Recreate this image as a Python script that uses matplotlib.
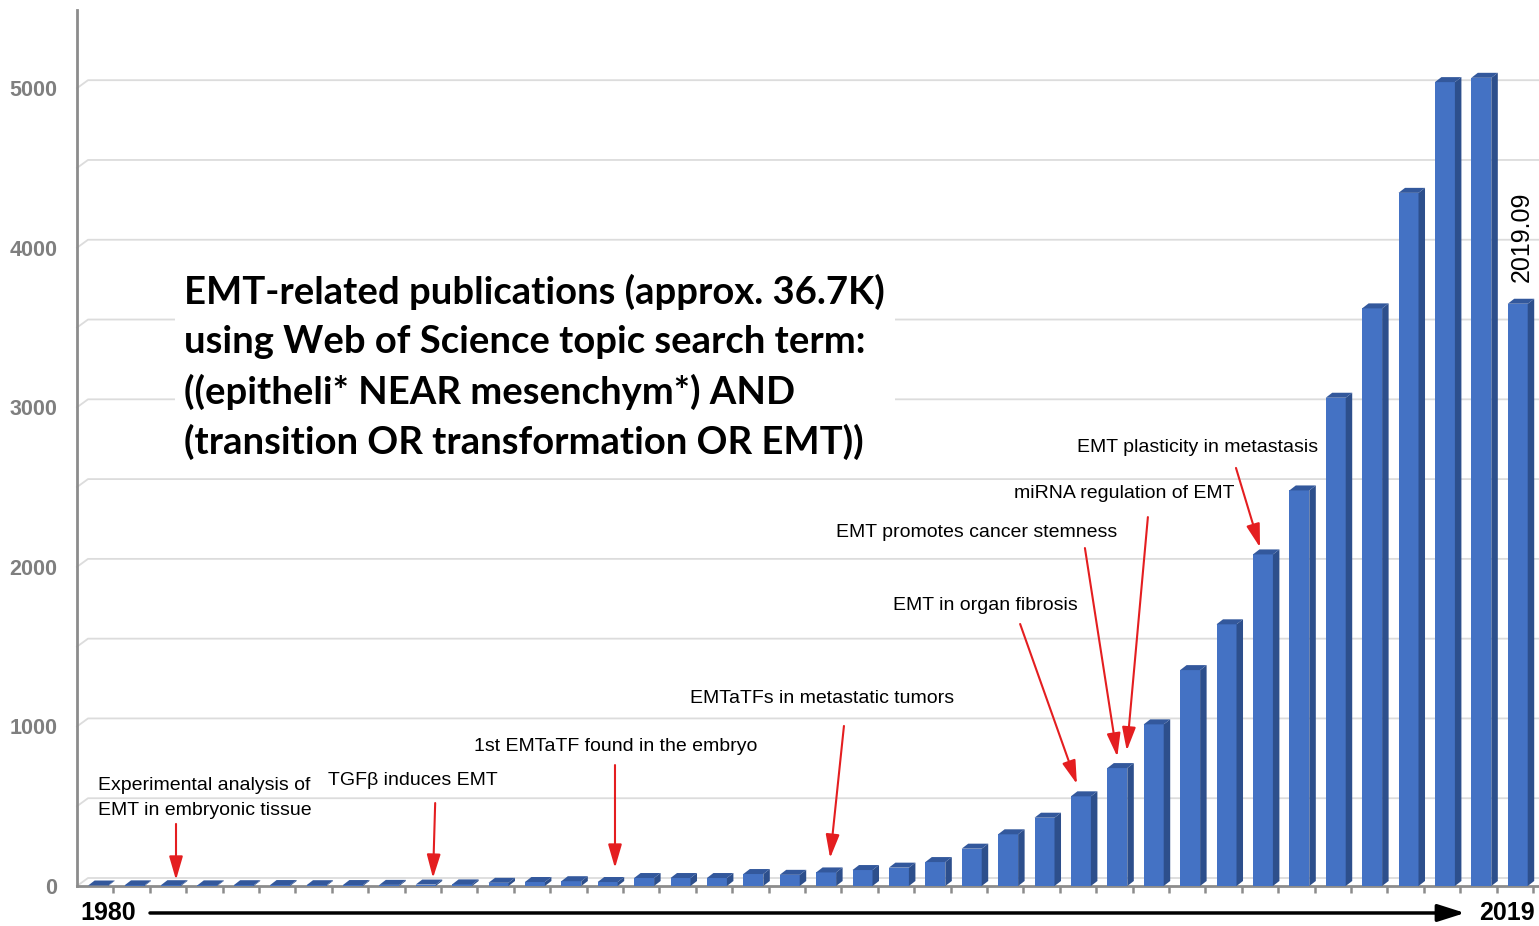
import numpy as np
import matplotlib.pyplot as plt
from matplotlib.patches import Polygon, Rectangle

years = np.arange(1980, 2020)
pubs = [3, 4, 5, 4, 5, 6, 5, 6, 7, 9, 10, 20, 25, 30, 25, 50, 50, 50, 75, 70,
        85, 100, 115, 150, 234, 324, 428, 562, 739, 1013, 1353, 1640, 2078, 2479,
        3060, 3620, 4344, 5038, 5065, 3649]

event_labels = ['Experimental analysis of\nEMT in embryonic tissue', 'TGF\u03b2 induces EMT',
                '1st EMTaTF found in the embryo', 'EMTaTFs in metastatic tumors',
                'EMT in organ fibrosis', 'EMT promotes cancer stemness',
                'miRNA regulation of EMT', 'EMT plasticity in metastasis']
event_years = [1982, 1989, 1994, 2000, 2007, 2008, 2008, 2012]

yticks = [0, 1000, 2000, 3000, 4000, 5000]
title_lines = ['EMT-related publications (approx. 36.7K)',
               'using Web of Science topic search term:',
               '((epitheli* NEAR mesenchym*) AND',
               '(transition OR transformation OR EMT))']

# layout (data units)
text_pos = [(1980.0, 551), (1986.32, 664), (1990.33, 877), (1996.26, 1178),
            (2001.84, 1755), (2000.27, 2218), (2005.16, 2457), (2006.89, 2751)]
tail_pos = [(1982.14, 389), (1989.26, 520), (1994.2, 758), (2000.49, 1003),
            (2005.33, 1642), (2007.11, 2118), (2008.84, 2312), (2011.26, 2620)]
head_off = [(0.14, 33), (0.2, 41), (0.2, 88), (0.11, 90),
            (-0.11, 77), (0.0, 71), (0.26, 109), (-0.08, 44)]

W, H = 1539, 926
fig = plt.figure(figsize=(W / 100, H / 100), dpi=100)
ax = fig.add_axes([77 / W, 40 / H, 1462 / W, 876 / H])
xmin, xmax = 1979.42, 1979.42 + 1462 / 36.4
ymax = 5490
ax.set_xlim(xmin, xmax)
ax.set_ylim(0, ymax)
px_x = (xmax - xmin) / 1462   # data units per pixel
px_y = ymax / 876

gray = '#8C8C8C'
for s in ['top', 'right']:
    ax.spines[s].set_visible(False)
for s in ['left', 'bottom']:
    ax.spines[s].set_color(gray)
    ax.spines[s].set_linewidth(2)

# gridlines with 3D back-wall offset
gdx, gdy = 11 * px_x, 8 * px_y
for v in np.arange(0, 5001, 500):
    ax.plot([xmin, xmin + gdx, xmax], [v, v + gdy, v + gdy], color='#DCDCDC',
            lw=1.3, zorder=1, clip_on=False)

# 3D bars
bw = 20 * px_x
ddx, ddy = 6.5 * px_x, 5 * px_y
ax.bar(years, pubs, width=bw, color='#4472C4', zorder=3)
for x, v in zip(years, pubs):
    r = x + bw / 2
    l = x - bw / 2
    ax.add_patch(Polygon([(r, 0), (r + ddx, ddy), (r + ddx, v + ddy), (r, v)],
                         closed=True, color='#2D4F8C', zorder=3, lw=0))
    ax.add_patch(Polygon([(l, v), (r, v), (r + ddx, v + ddy), (l + ddx, v + ddy)],
                         closed=True, color='#33589C', zorder=3, lw=0))

ax.set_yticks(yticks)
ax.set_yticklabels([str(t) for t in yticks], fontsize=15.5, fontweight='bold',
                   color='#7F7F7F', family='Liberation Sans')
ax.tick_params(axis='y', length=0, pad=14)
ax.set_xticks(xmin + np.arange(1, 41))
ax.set_xticklabels([])
ax.tick_params(axis='x', length=5, width=1.8, color=gray, direction='out')

# title box
bx0, bx1 = 1979.42 + 98 / 36.4, 1979.42 + 818 / 36.4
ax.add_patch(Rectangle((bx0, 2613), bx1 - bx0, 3903 - 2613, color='white', zorder=2, lw=0))
for i, line in enumerate(title_lines):
    ax.text(1979.42 + 107 / 36.4, (886 - (292 + 50 * i)) * px_y, line, fontsize=27.5,
            fontweight='bold', family='Lato', va='center', ha='left', zorder=4)

# events
for lab, yr, tp, tl, ho in zip(event_labels, event_years, text_pos, tail_pos, head_off):
    ax.text(tp[0], tp[1], lab, fontsize=14, family='Liberation Sans', va='center',
            ha='left', linespacing=1.65, zorder=4)
    ax.annotate('', xy=(yr + ho[0], pubs[yr - 1980] + ho[1]), xytext=tl,
                arrowprops=dict(arrowstyle='-|>,head_length=1.1,head_width=0.32',
                                color='#E41E20', lw=1.5, mutation_scale=13,
                                shrinkA=0, shrinkB=0), zorder=5)

ax.text(2019.11, 4070, '2019.09', rotation=90, fontsize=18, family='Liberation Sans',
        ha='center', va='center', zorder=4)

# time arrow under the axis
ax.annotate('', xy=(1979.42 + 1388 / 36.4, -0.0308), xytext=(1979.42 + 73 / 36.4, -0.0308),
            xycoords=('data', 'axes fraction'), textcoords=('data', 'axes fraction'),
            arrowprops=dict(arrowstyle='-|>,head_length=1.1,head_width=0.35',
                            color='black', lw=2.5, mutation_scale=15, shrinkA=0, shrinkB=0))
ax.text(1979.42 + 3 / 36.4, -0.0308, '1980', transform=ax.get_xaxis_transform(),
        fontsize=18, fontweight='bold', family='Liberation Sans', ha='left', va='center')
ax.text(1979.42 + 1458 / 36.4, -0.0308, '2019', transform=ax.get_xaxis_transform(),
        fontsize=18, fontweight='bold', family='Liberation Sans', ha='right', va='center')

fig.savefig('out.png', dpi=100)
